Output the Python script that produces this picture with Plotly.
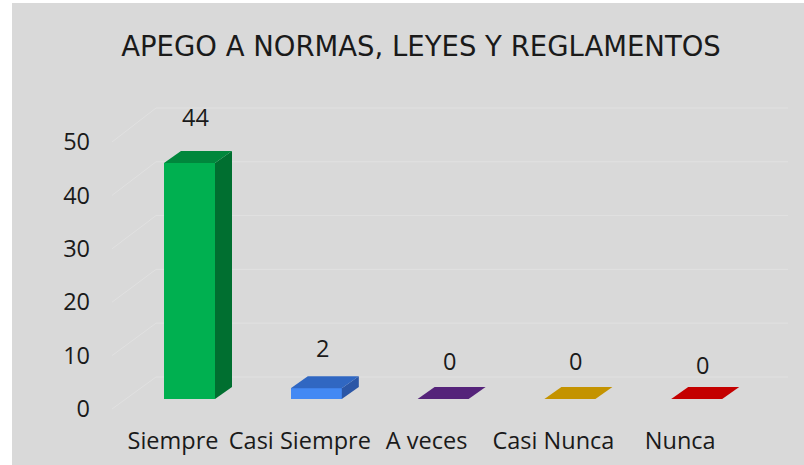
import plotly.graph_objects as go

# ---------------- data ----------------
categories = ["Siempre", "Casi Siempre", "A veces", "Casi Nunca", "Nunca"]
values = [44, 2, 0, 0, 0]
y_ticks = [0, 10, 20, 30, 40, 50]
title_text = "APEGO A NORMAS, LEYES Y REGLAMENTOS"

# ---------------- style ----------------
front_colors = ["#00B050", "#4389F4", "#7030A0", "#F0B400", "#E00000"]
top_colors = ["#00873C", "#3067C2", "#55237A", "#C49300", "#C40000"]
side_colors = ["#006F30", "#2B56A6", "#4A1F6A", "#A67C00", "#A00000"]
label_yshift = [46, 40, 38, 38, 34]
FONT = "Open Sans"
TITLE_FONT = "DejaVu Sans"
TXT = "#1a1a1a"
FS = 23.5

W, H = 804, 465
L, R, T, B = 110, 795, 100, 420          # plot area in pixels
PX_CAT = 126.8                           # pixels per category
# front (label) plane
x1_lo = -(173 - L) / PX_CAT
x1_hi = x1_lo + (R - L) / PX_CAT
Y1_ZERO, Y1_PX = 409, 5.34
y1_lo, y1_hi = (Y1_ZERO - B) / Y1_PX, (Y1_ZERO - T) / Y1_PX
# bar plane (deeper)
x2_lo = -(189.5 - L) / PX_CAT
x2_hi = x2_lo + (R - L) / PX_CAT
Y2_ZERO, Y2_PX = 399, 5.364
y2_lo, y2_hi = (Y2_ZERO - B) / Y2_PX, (Y2_ZERO - T) / Y2_PX

BAR_W = 51 / PX_CAT
DX = 17 / PX_CAT
DY = 12 / Y2_PX


def px_to_x2(px):
    return (px - L) / PX_CAT + x2_lo


fig = go.Figure()

# invisible trace anchoring the front (label) axes
fig.add_trace(go.Scatter(x=list(range(len(categories))), y=values, mode="markers",
                         marker=dict(opacity=0), hoverinfo="skip", showlegend=False))

# front faces
fig.add_trace(go.Bar(
    x=list(range(len(categories))), y=values, width=BAR_W,
    marker=dict(color=front_colors, line=dict(width=0)),
    xaxis="x2", yaxis="y2", hoverinfo="skip", showlegend=False,
))

# top and side faces
for i, v in enumerate(values):
    x0, x1 = i - BAR_W / 2, i + BAR_W / 2
    if v > 0:
        fig.add_trace(go.Scatter(
            x=[x1, x1, x1 + DX, x1 + DX, x1], y=[0, v, v + DY, DY, 0],
            mode="lines", fill="toself", fillcolor=side_colors[i],
            line=dict(width=0), xaxis="x2", yaxis="y2",
            hoverinfo="skip", showlegend=False))
    fig.add_trace(go.Scatter(
        x=[x0, x1, x1 + DX, x0 + DX, x0], y=[v, v, v + DY, v + DY, v],
        mode="lines", fill="toself", fillcolor=top_colors[i],
        line=dict(width=0), xaxis="x2", yaxis="y2",
        hoverinfo="skip", showlegend=False))

shapes = []
# background panel
shapes.append(dict(type="rect", xref="paper", yref="paper",
                   x0=(12 - L) / (R - L), x1=(W + 5 - L) / (R - L),
                   y0=(B - H - 5) / (B - T), y1=(B - 3) / (B - T),
                   fillcolor="#D9D9D9", line=dict(width=0), layer="below"))
# perspective gridlines
for t in y_ticks:
    back_y = (Y2_ZERO - (377 - 5.38 * t)) / Y2_PX
    front_y = (Y2_ZERO - (Y1_ZERO - Y1_PX * t)) / Y2_PX
    shapes.append(dict(type="line", xref="x2", yref="y2",
                       x0=px_to_x2(112), y0=front_y, x1=px_to_x2(156), y1=back_y,
                       line=dict(color="#E1E1E1", width=1), layer="below"))
    shapes.append(dict(type="line", xref="x2", yref="y2",
                       x0=px_to_x2(156), y0=back_y, x1=px_to_x2(788), y1=back_y,
                       line=dict(color="#E1E1E1", width=1), layer="below"))

annotations = []
for i, v in enumerate(values):
    annotations.append(dict(
        x=i, y=v, xref="x2", yref="y2", text=str(v), showarrow=False,
        xshift=6, yshift=label_yshift[i], yanchor="middle",
        font=dict(family=FONT, size=FS, color=TXT)))

fig.update_layout(
    width=W, height=H,
    margin=dict(l=L, r=W - R, t=T, b=H - B, pad=0),
    paper_bgcolor="white", plot_bgcolor="rgba(0,0,0,0)",
    title=dict(text=title_text, x=421 / W, y=1 - 46 / H, xanchor="center",
               yanchor="middle", font=dict(family=TITLE_FONT, size=27.5, color=TXT)),
    xaxis=dict(range=[x1_lo, x1_hi], tickvals=list(range(len(categories))),
               ticktext=categories, showgrid=False, zeroline=False,
               showline=False, ticks="", ticklabelstandoff=4,
               tickfont=dict(family=FONT, size=FS, color=TXT), fixedrange=True),
    yaxis=dict(range=[y1_lo, y1_hi], tickvals=y_ticks, showgrid=False,
               zeroline=False, showline=False, ticks="", ticklabelstandoff=19,
               tickfont=dict(family=FONT, size=FS, color=TXT), fixedrange=True),
    xaxis2=dict(range=[x2_lo, x2_hi], overlaying="x", visible=False,
                fixedrange=True),
    yaxis2=dict(range=[y2_lo, y2_hi], overlaying="y", visible=False,
                fixedrange=True),
    shapes=shapes, annotations=annotations, bargap=0,
    font=dict(family=FONT, color=TXT),
)

fig.write_html("out.html", config={"displayModeBar": False},
               post_script="document.body.style.margin='0';")
